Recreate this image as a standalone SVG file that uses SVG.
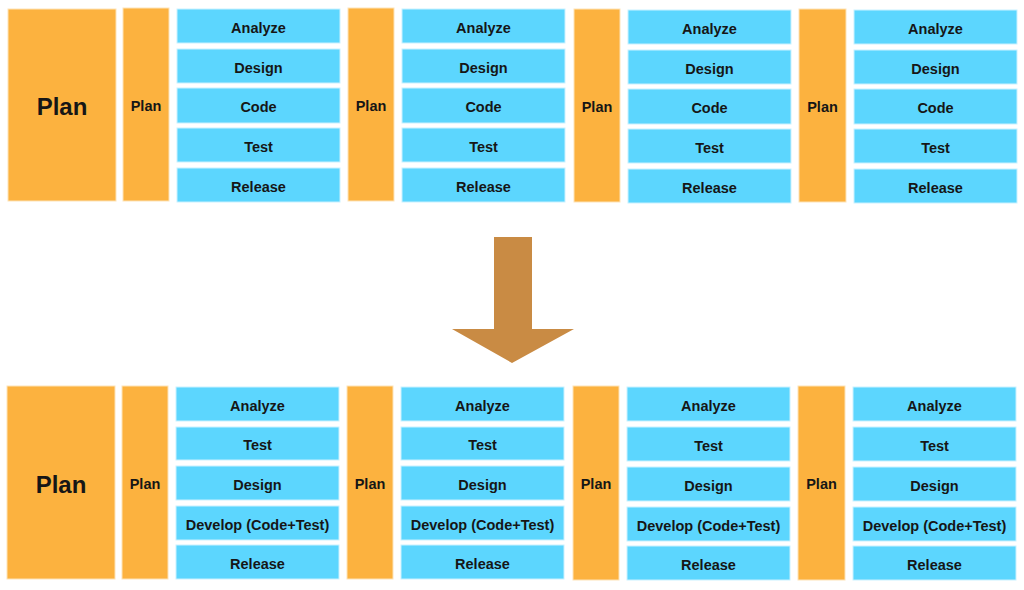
<svg xmlns="http://www.w3.org/2000/svg" width="1024" height="590" viewBox="0 0 1024 590">
<style>
.o{fill:#FCB23F;stroke:#FDE3B8;stroke-width:1}
.b{fill:#5CD6FE;stroke:#C9F1FF;stroke-width:1}
text{font-family:"Liberation Sans",Arial,sans-serif;font-weight:bold;fill:#161616;text-anchor:middle}
.t{font-size:14.5px}
.big{font-size:24px}
</style>
<rect width="1024" height="590" fill="#ffffff"/>
<!-- Top row -->
<g id="top-plan-main"><rect class="o" x="8" y="9" width="108" height="192"/><text class="big" x="62" y="115">Plan</text></g>
<g id="top-plan-1"><rect class="o" x="123" y="8" width="46" height="193"/><text class="t" x="146" y="111">Plan</text></g>
<g id="top-c1-analyze"><rect class="b" x="177" y="9" width="163" height="34"/><text class="t" x="258.5" y="33">Analyze</text></g>
<g id="top-c1-design"><rect class="b" x="177" y="49" width="163" height="34"/><text class="t" x="258.5" y="73">Design</text></g>
<g id="top-c1-code"><rect class="b" x="177" y="88" width="163" height="35"/><text class="t" x="258.5" y="112">Code</text></g>
<g id="top-c1-test"><rect class="b" x="177" y="128" width="163" height="34"/><text class="t" x="258.5" y="152">Test</text></g>
<g id="top-c1-release"><rect class="b" x="177" y="168" width="163" height="34"/><text class="t" x="258.5" y="192">Release</text></g>
<g id="top-plan-2"><rect class="o" x="348" y="8" width="46" height="193"/><text class="t" x="371" y="111">Plan</text></g>
<g id="top-c2-analyze"><rect class="b" x="402" y="9" width="163" height="34"/><text class="t" x="483.5" y="33">Analyze</text></g>
<g id="top-c2-design"><rect class="b" x="402" y="49" width="163" height="34"/><text class="t" x="483.5" y="73">Design</text></g>
<g id="top-c2-code"><rect class="b" x="402" y="88" width="163" height="35"/><text class="t" x="483.5" y="112">Code</text></g>
<g id="top-c2-test"><rect class="b" x="402" y="128" width="163" height="34"/><text class="t" x="483.5" y="152">Test</text></g>
<g id="top-c2-release"><rect class="b" x="402" y="168" width="163" height="34"/><text class="t" x="483.5" y="192">Release</text></g>
<g id="top-plan-3"><rect class="o" x="574" y="9" width="46" height="193"/><text class="t" x="597" y="112">Plan</text></g>
<g id="top-c3-analyze"><rect class="b" x="628" y="10" width="163" height="34"/><text class="t" x="709.5" y="34">Analyze</text></g>
<g id="top-c3-design"><rect class="b" x="628" y="50" width="163" height="34"/><text class="t" x="709.5" y="74">Design</text></g>
<g id="top-c3-code"><rect class="b" x="628" y="89" width="163" height="35"/><text class="t" x="709.5" y="113">Code</text></g>
<g id="top-c3-test"><rect class="b" x="628" y="129" width="163" height="34"/><text class="t" x="709.5" y="153">Test</text></g>
<g id="top-c3-release"><rect class="b" x="628" y="169" width="163" height="34"/><text class="t" x="709.5" y="193">Release</text></g>
<g id="top-plan-4"><rect class="o" x="799" y="9" width="47" height="193"/><text class="t" x="822.5" y="112">Plan</text></g>
<g id="top-c4-analyze"><rect class="b" x="854" y="10" width="163" height="34"/><text class="t" x="935.5" y="34">Analyze</text></g>
<g id="top-c4-design"><rect class="b" x="854" y="50" width="163" height="34"/><text class="t" x="935.5" y="74">Design</text></g>
<g id="top-c4-code"><rect class="b" x="854" y="89" width="163" height="35"/><text class="t" x="935.5" y="113">Code</text></g>
<g id="top-c4-test"><rect class="b" x="854" y="129" width="163" height="34"/><text class="t" x="935.5" y="153">Test</text></g>
<g id="top-c4-release"><rect class="b" x="854" y="169" width="163" height="34"/><text class="t" x="935.5" y="193">Release</text></g>
<!-- Arrow -->
<g id="connectors"><polygon points="494,237 532,237 532,329 574,329 512,363 452,329 494,329" fill="#C98B44"/></g>
<!-- Bottom row -->
<g id="bot-plan-main"><rect class="o" x="7" y="386" width="108" height="193"/><text class="big" x="61" y="493">Plan</text></g>
<g id="bot-plan-1"><rect class="o" x="122" y="386" width="46" height="193"/><text class="t" x="145" y="489">Plan</text></g>
<g id="bot-c1-analyze"><rect class="b" x="176" y="387" width="163" height="34"/><text class="t" x="257.5" y="411">Analyze</text></g>
<g id="bot-c1-test"><rect class="b" x="176" y="427" width="163" height="33"/><text class="t" x="257.5" y="450">Test</text></g>
<g id="bot-c1-design"><rect class="b" x="176" y="466" width="163" height="34"/><text class="t" x="257.5" y="490">Design</text></g>
<g id="bot-c1-develop"><rect class="b" x="176" y="506" width="163" height="34"/><text class="t" x="257.5" y="530">Develop (Code+Test)</text></g>
<g id="bot-c1-release"><rect class="b" x="176" y="545" width="163" height="34"/><text class="t" x="257.5" y="569">Release</text></g>
<g id="bot-plan-2"><rect class="o" x="347" y="386" width="46" height="193"/><text class="t" x="370" y="489">Plan</text></g>
<g id="bot-c2-analyze"><rect class="b" x="401" y="387" width="163" height="34"/><text class="t" x="482.5" y="411">Analyze</text></g>
<g id="bot-c2-test"><rect class="b" x="401" y="427" width="163" height="33"/><text class="t" x="482.5" y="450">Test</text></g>
<g id="bot-c2-design"><rect class="b" x="401" y="466" width="163" height="34"/><text class="t" x="482.5" y="490">Design</text></g>
<g id="bot-c2-develop"><rect class="b" x="401" y="506" width="163" height="34"/><text class="t" x="482.5" y="530">Develop (Code+Test)</text></g>
<g id="bot-c2-release"><rect class="b" x="401" y="545" width="163" height="34"/><text class="t" x="482.5" y="569">Release</text></g>
<g id="bot-plan-3"><rect class="o" x="573" y="386" width="46" height="194"/><text class="t" x="596" y="489">Plan</text></g>
<g id="bot-c3-analyze"><rect class="b" x="627" y="387" width="163" height="34"/><text class="t" x="708.5" y="411">Analyze</text></g>
<g id="bot-c3-test"><rect class="b" x="627" y="427" width="163" height="34"/><text class="t" x="708.5" y="451">Test</text></g>
<g id="bot-c3-design"><rect class="b" x="627" y="467" width="163" height="34"/><text class="t" x="708.5" y="491">Design</text></g>
<g id="bot-c3-develop"><rect class="b" x="627" y="507" width="163" height="34"/><text class="t" x="708.5" y="531">Develop (Code+Test)</text></g>
<g id="bot-c3-release"><rect class="b" x="627" y="546" width="163" height="34"/><text class="t" x="708.5" y="570">Release</text></g>
<g id="bot-plan-4"><rect class="o" x="798" y="386" width="47" height="194"/><text class="t" x="821.5" y="489">Plan</text></g>
<g id="bot-c4-analyze"><rect class="b" x="853" y="387" width="163" height="34"/><text class="t" x="934.5" y="411">Analyze</text></g>
<g id="bot-c4-test"><rect class="b" x="853" y="427" width="163" height="34"/><text class="t" x="934.5" y="451">Test</text></g>
<g id="bot-c4-design"><rect class="b" x="853" y="467" width="163" height="34"/><text class="t" x="934.5" y="491">Design</text></g>
<g id="bot-c4-develop"><rect class="b" x="853" y="507" width="163" height="34"/><text class="t" x="934.5" y="531">Develop (Code+Test)</text></g>
<g id="bot-c4-release"><rect class="b" x="853" y="546" width="163" height="34"/><text class="t" x="934.5" y="570">Release</text></g>
</svg>
